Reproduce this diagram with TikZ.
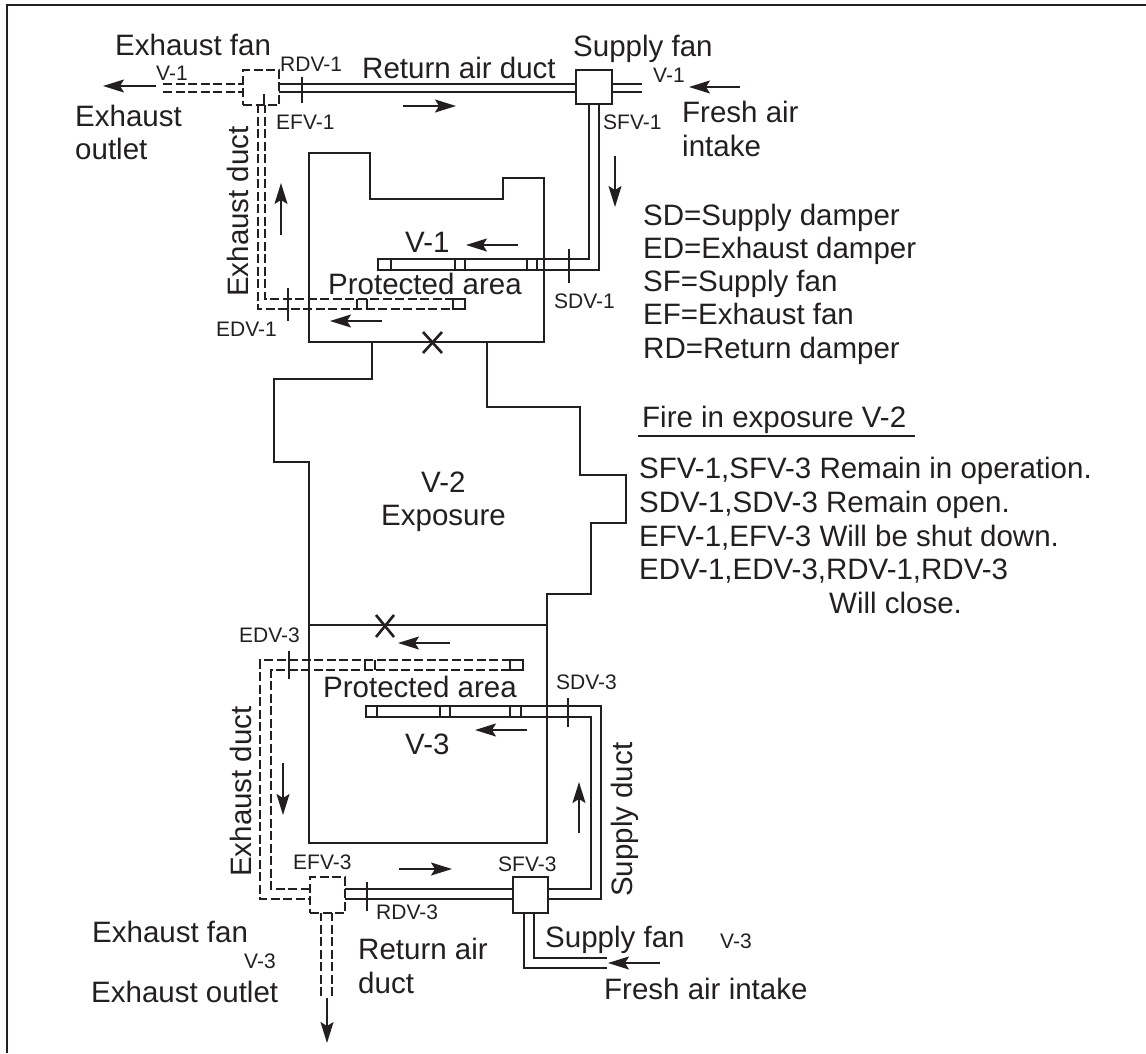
\documentclass[tikz,border=0pt]{standalone}
\usepackage{fontspec}
\setmainfont{Liberation Sans}
\usetikzlibrary{arrows.meta}
\definecolor{ink}{HTML}{231F20}
\tikzset{
  wall/.style={draw=ink,line width=2.6pt,line join=miter},
  duct/.style={draw=ink,line width=2.5pt},
  dduct/.style={draw=ink,line width=2.5pt,dash pattern=on 9pt off 3.5pt},
  tick/.style={draw=ink,line width=2.2pt},
  flow/.style={draw=ink,line width=1.6pt,-{Stealth[length=21pt,width=13pt,inset=4pt]}},
  big/.style={anchor=base west,inner sep=0pt,text=ink,font=\fontsize{29.5}{29.5}\selectfont},
  small/.style={anchor=base west,inner sep=0pt,text=ink,font=\fontsize{21}{21}\selectfont},
  fan/.style={draw=ink,line width=2.3pt,fill=white},
  dfan/.style={draw=ink,line width=2.1pt,dash pattern=on 9pt off 3.5pt,fill=white}
}
\begin{document}
\begin{tikzpicture}[x=1pt,y=-1pt]
\useasboundingbox (0,0) rectangle (1146,1053);
% frame
\draw[draw=ink,line width=1.6pt] (7,1053) -- (7,5) -- (1146,5);
% rooms
\draw[wall] (309,342) -- (309,153) -- (370,153) -- (370,199) -- (503,199) -- (503,178) -- (544,178) -- (544,342) -- cycle;
\draw[wall] (372,342) -- (372,379) -- (274,379) -- (274,462) -- (309,462) -- (309,625);
\draw[wall] (487,342) -- (487,407) -- (580,407) -- (580,475) -- (626,475) -- (626,523) -- (591,523) -- (591,594) -- (547,594) -- (547,625);
\draw[wall] (309,625) rectangle (547,843);
% X marks
\draw[tick,line width=2.6pt] (423,332) -- (442,353) (442,332) -- (423,353);
\draw[tick,line width=2.6pt] (376,615) -- (394,637) (394,615) -- (376,637);
% top ducts
\draw[dduct] (163,84) -- (242,84) (163,92) -- (242,92);
\draw[duct] (278,84) -- (575,84) (278,92) -- (575,92);
\draw[duct] (611,84) -- (642,84) (611,92) -- (642,92);
\draw[duct] (589,103) -- (589,259) -- (378,259) -- (378,270) -- (599,270) -- (599,103);
\draw[duct,line width=2pt] (391,259) -- (391,270) (455,259) -- (455,270) (465,259) -- (465,270) (527,259) -- (527,270) (537,259) -- (537,270);
\draw[dduct] (258,104) -- (258,309) -- (453,309);
\draw[dduct] (265,104) -- (265,299) -- (453,299);
\draw[duct] (453,299) -- (465,299) -- (465,309) -- (453,309) -- cycle;
\draw[duct,line width=2pt] (357,299) -- (357,309) (367,299) -- (367,309);
\node[fan,minimum width=36pt,minimum height=34pt,inner sep=0pt,anchor=north west] (SFone) at (575,69) {};
\node[dfan,minimum width=36pt,minimum height=35pt,inner sep=0pt,anchor=north west] (EFone) at (242,69) {};
% top ticks
\draw[tick] (302,77) -- (302,103);
\draw[tick] (264,94) -- (264,105);
\draw[tick] (569,249) -- (569,283);
\draw[tick] (288,288) -- (288,321);
% bottom ducts
\draw[dduct] (523,660) -- (260,660) -- (260,899) -- (309,899);
\draw[dduct] (510,670) -- (271,670) -- (271,889) -- (309,889);
\draw[duct] (510,660) -- (523,660) -- (523,670) -- (510,670) -- cycle;
\draw[duct,line width=2pt] (365,660) -- (365,670) (375,660) -- (375,670);
\draw[duct] (344,889) -- (512,889) (344,899) -- (512,899);
\draw[duct] (547,889) -- (591,889) -- (591,717) -- (366,717) -- (366,706) -- (601,706) -- (601,899) -- (547,899);
\draw[duct,line width=2pt] (377,706) -- (377,717) (440,706) -- (440,717) (450,706) -- (450,717) (510,706) -- (510,717) (521,706) -- (521,717);
\draw[duct] (534,912) -- (534,958) -- (607,958) (524,912) -- (524,968) -- (607,968);
\draw[dduct] (321,912) -- (321,998) (332,912) -- (332,998);
\node[fan,minimum width=35pt,minimum height=36pt,inner sep=0pt,anchor=north west] (SFthree) at (512,876) {};
\node[dfan,minimum width=35pt,minimum height=36pt,inner sep=0pt,anchor=north west] (EFthree) at (309,876) {};
% bottom ticks
\draw[tick] (367,882) -- (367,911);
\draw[tick] (568,698) -- (568,727);
\draw[tick] (289,651) -- (289,679);
% flow arrows
\draw[flow] (156,86) -- (103,86);
\draw[flow] (403,106) -- (456,106);
\draw[flow] (740,87) -- (689,87);
\draw[flow] (615,156) -- (615,207);
\draw[flow] (281,235) -- (281,183);
\draw[flow] (518,245) -- (466,245);
\draw[flow] (382,321) -- (330,321);
\draw[flow] (450,643) -- (398,643);
\draw[flow] (527,730) -- (475,730);
\draw[flow] (283,763) -- (283,815);
\draw[flow] (579,833) -- (579,782);
\draw[flow] (399,869) -- (452,869);
\draw[flow] (660,963) -- (608,963);
\draw[flow] (327,998) -- (327,1043);
% labels top
\node[big] (t1) at (115,55) {Exhaust fan};
\node[small] (t2) at (156,80) {V-1};
\node[small] (t3) at (280,71) {RDV-1};
\node[big] (t4) at (362,78) {Return air duct};
\node[big] (t5) at (75,126) {Exhaust};
\node[big] (t6) at (75,159) {outlet};
\node[small] (t7) at (276,129) {EFV-1};
\node[big] (t8) at (573,56) {Supply fan};
\node[small] (t9) at (653,82) {V-1};
\node[big] (t10) at (682,122) {Fresh air};
\node[big] (t11) at (682,156) {intake};
\node[small] (t12) at (603,129) {SFV-1};
\node[big] (t13) at (405,252) {V-1};
\node[big] (t14) at (328,294) {Protected area};
\node[small] (t15) at (554,308) {SDV-1};
\node[small] (t16) at (216,336) {EDV-1};
\node[big,rotate=90] (t17) at (248,297) {Exhaust duct};
% middle
\node[big] (t18) at (421,492) {V-2};
\node[big] (t19) at (381,525) {Exposure};
% legend
\node[big] (l1) at (643,225) {SD=Supply damper};
\node[big] (l2) at (643,258) {ED=Exhaust damper};
\node[big] (l3) at (643,291) {SF=Supply fan};
\node[big] (l4) at (643,324) {EF=Exhaust fan};
\node[big] (l5) at (643,358) {RD=Return damper};
\node[big] (f0) at (642,427) {Fire in exposure V-2};
\draw[draw=ink,line width=2pt] (638,436) -- (915,436);
\node[big] (f1) at (639,478) {SFV-1,SFV-3 Remain in operation.};
\node[big] (f2) at (639,512) {SDV-1,SDV-3 Remain open.};
\node[big] (f3) at (639,546) {EFV-1,EFV-3 Will be shut down.};
\node[big] (f4) at (639,579) {EDV-1,EDV-3,RDV-1,RDV-3};
\node[big] (f5) at (829,613) {Will close.};
% labels bottom
\node[small] (b1) at (239,642) {EDV-3};
\node[big] (b2) at (323,697) {Protected area};
\node[small] (b3) at (556,689) {SDV-3};
\node[big] (b4) at (405,754) {V-3};
\node[big,rotate=90] (b5) at (251,877) {Exhaust duct};
\node[small] (b6) at (293,869) {EFV-3};
\node[small] (b7) at (498,871) {SFV-3};
\node[small] (b8) at (376,919) {RDV-3};
\node[big] (b9) at (358,959) {Return air};
\node[big] (b10) at (358,993) {duct};
\node[big] (b11) at (545,947) {Supply fan};
\node[small] (b12) at (720,948) {V-3};
\node[big] (b13) at (604,999) {Fresh air intake};
\node[big,rotate=90] (b14) at (632,897) {Supply duct};
\node[big] (b15) at (92,942) {Exhaust fan};
\node[small] (b16) at (244,968) {V-3};
\node[big] (b17) at (91,1002) {Exhaust outlet};
\end{tikzpicture}
\end{document}
